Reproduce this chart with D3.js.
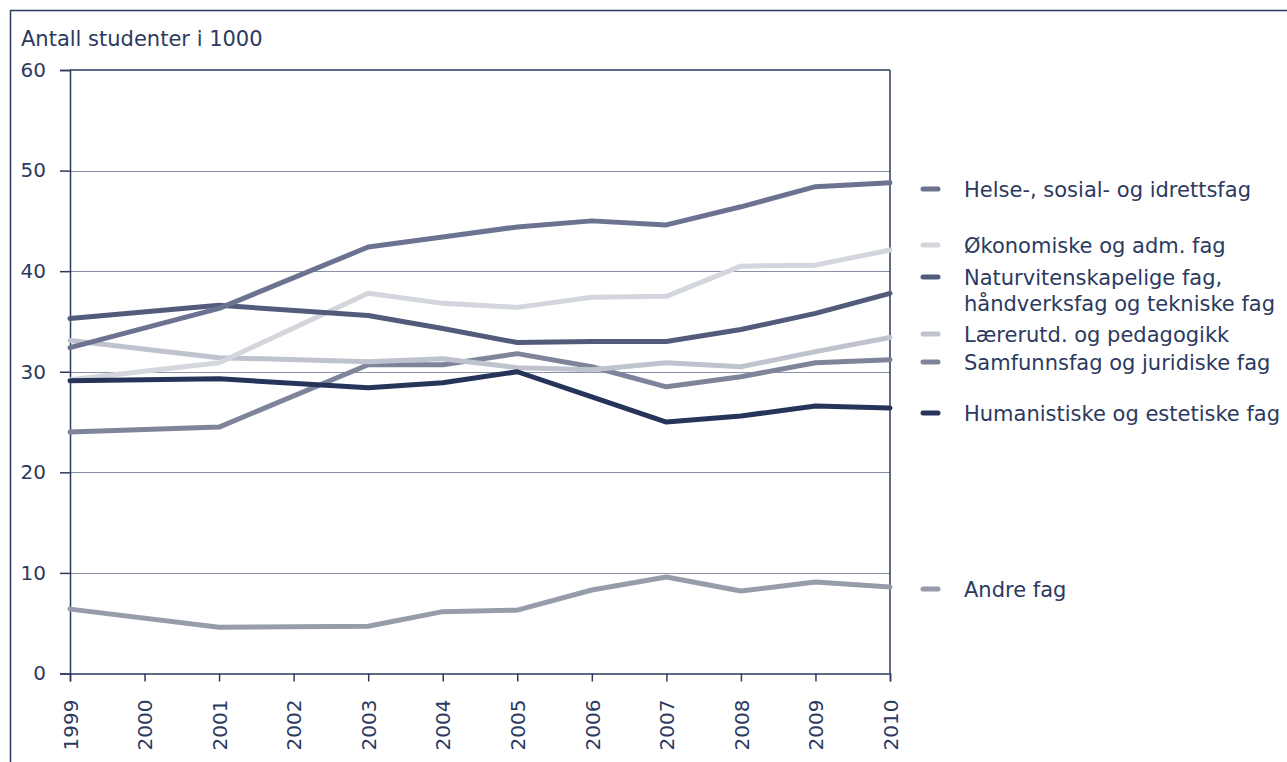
<!DOCTYPE html>
<html>
<head>
<meta charset="utf-8">
<script src="https://cdn.jsdelivr.net/npm/d3@7"></script>
<style>
  html, body { margin: 0; padding: 0; background: #ffffff; }
  svg { display: block; }
  text { font-family: "DejaVu Sans", Verdana, sans-serif; fill: #2b3a5e; }
</style>
</head>
<body>
<svg id="chart" width="1287" height="762"></svg>
<script>
// ---- data ----
const years = [1999, 2001, 2003, 2004, 2005, 2006, 2007, 2008, 2009, 2010];
const tickYears = [1999, 2000, 2001, 2002, 2003, 2004, 2005, 2006, 2007, 2008, 2009, 2010];
const yTicks = [0, 10, 20, 30, 40, 50, 60];

const seriesNames = [
  "Helse-, sosial- og idrettsfag",
  "Økonomiske og adm. fag",
  "Naturvitenskapelige fag,\nhåndverksfag og tekniske fag",
  "Lærerutd. og pedagogikk",
  "Samfunnsfag og juridiske fag",
  "Humanistiske og estetiske fag",
  "Andre fag"
];
const helse   = [32.4, 36.3, 42.4, 43.4, 44.4, 45.0, 44.6, 46.4, 48.4, 48.8];
const okonomi = [29.2, 30.9, 37.8, 36.8, 36.4, 37.4, 37.5, 40.5, 40.6, 42.1];
const natur   = [35.3, 36.6, 35.6, 34.3, 32.9, 33.0, 33.0, 34.2, 35.8, 37.8];
const laerer  = [33.1, 31.4, 31.0, 31.3, 30.4, 30.2, 30.9, 30.5, 32.0, 33.4];
const samfunn = [24.0, 24.5, 30.7, 30.7, 31.8, 30.5, 28.5, 29.5, 30.9, 31.2];
const human   = [29.1, 29.3, 28.4, 28.9, 30.0, 27.5, 25.0, 25.6, 26.6, 26.4];
const andre   = [6.4, 4.6, 4.7, 6.15, 6.3, 8.3, 9.6, 8.2, 9.1, 8.6];

const seriesValues = [helse, okonomi, natur, laerer, samfunn, human, andre];
const seriesColors = ["#6b7390", "#d4d6dd", "#525c7a", "#bfc3cd", "#7e8499", "#27345a", "#979caa"];
const legendY = [189, 245, 277, 334, 362, 413, 589];
const drawOrder = [6, 4, 3, 1, 2, 0, 5];

// ---- layout ----
const svg = d3.select("#chart");
const pLeft = 70, pRight = 890, pTop = 70, pBottom = 673.5;
const dark = "#2b3a5e";
const fs = 20;      // tick labels
const fsText = 21;  // title and legend

const x = d3.scaleLinear().domain([1999, 2010]).range([pLeft, pRight]);
const y = d3.scaleLinear().domain([0, 60]).range([pBottom, pTop]);

// outer frame (top and left only)
svg.append("line").attr("x1", 10).attr("x2", 1287).attr("y1", 10.5).attr("y2", 10.5)
  .attr("stroke", dark).attr("stroke-width", 1.5);
svg.append("line").attr("x1", 10.5).attr("x2", 10.5).attr("y1", 10).attr("y2", 762)
  .attr("stroke", dark).attr("stroke-width", 1.5);

// title
svg.append("text").attr("x", 21).attr("y", 46).attr("font-size", fsText)
  .text("Antall studenter i 1000");

// gridlines
svg.append("g").selectAll("line").data(yTicks.filter(d => d > 0 && d < 60)).join("line")
  .attr("x1", pLeft).attr("x2", pRight)
  .attr("y1", d => Math.round(y(d)) + 0.5).attr("y2", d => Math.round(y(d)) + 0.5)
  .attr("stroke", "#8a90a8").attr("stroke-width", 1.2);

// y axis
const yAxis = d3.axisLeft(y).tickValues(yTicks).tickSize(10).tickPadding(14).tickFormat(d3.format("d"));
const gy = svg.append("g").attr("transform", `translate(${pLeft},0)`).call(yAxis);
gy.select(".domain").attr("stroke", dark).attr("stroke-width", 1.5);
gy.selectAll(".tick line").attr("stroke", dark).attr("stroke-width", 1.5);
gy.selectAll(".tick text").attr("font-size", fs).attr("font-family", "DejaVu Sans, Verdana, sans-serif").attr("fill", dark);

// right frame and top frame of plot
svg.append("line").attr("x1", pRight).attr("x2", pRight).attr("y1", pTop).attr("y2", pBottom)
  .attr("stroke", dark).attr("stroke-width", 1.5);
svg.append("line").attr("x1", pLeft).attr("x2", pRight).attr("y1", pTop).attr("y2", pTop)
  .attr("stroke", dark).attr("stroke-width", 1.5);

// x axis
const xAxis = d3.axisBottom(x).tickValues(tickYears).tickSize(8).tickFormat(d3.format("d"));
const gx = svg.append("g").attr("transform", `translate(0,${pBottom})`).call(xAxis);
gx.select(".domain").attr("stroke", dark).attr("stroke-width", 1.5);
gx.selectAll(".tick line").attr("stroke", dark).attr("stroke-width", 1.5);
gx.selectAll(".tick text")
  .attr("font-size", fs).attr("font-family", "DejaVu Sans, Verdana, sans-serif").attr("fill", dark)
  .attr("transform", "rotate(-90)")
  .attr("text-anchor", "end")
  .attr("x", -26).attr("y", 0).attr("dy", "0.36em");

// lines
const line = d3.line().x((d, i) => x(years[i])).y(d => y(d));
svg.append("g").selectAll("path").data(drawOrder).join("path")
  .attr("d", i => line(seriesValues[i]))
  .attr("fill", "none")
  .attr("stroke", i => seriesColors[i])
  .attr("stroke-width", 5)
  .attr("stroke-linejoin", "round")
  .attr("stroke-linecap", "round");

// legend
const lg = svg.append("g");
seriesNames.forEach((name, i) => {
  const ly = legendY[i];
  lg.append("line").attr("x1", 923).attr("x2", 938).attr("y1", ly).attr("y2", ly)
    .attr("stroke", seriesColors[i]).attr("stroke-width", 5).attr("stroke-linecap", "round");
  const t = lg.append("text").attr("x", 964).attr("y", ly).attr("font-size", fsText);
  name.split("\n").forEach((part, k) => {
    t.append("tspan").attr("x", 964).attr("dy", k === 0 ? "0.36em" : "1.24em").text(part);
  });
});
</script>
</body>
</html>
